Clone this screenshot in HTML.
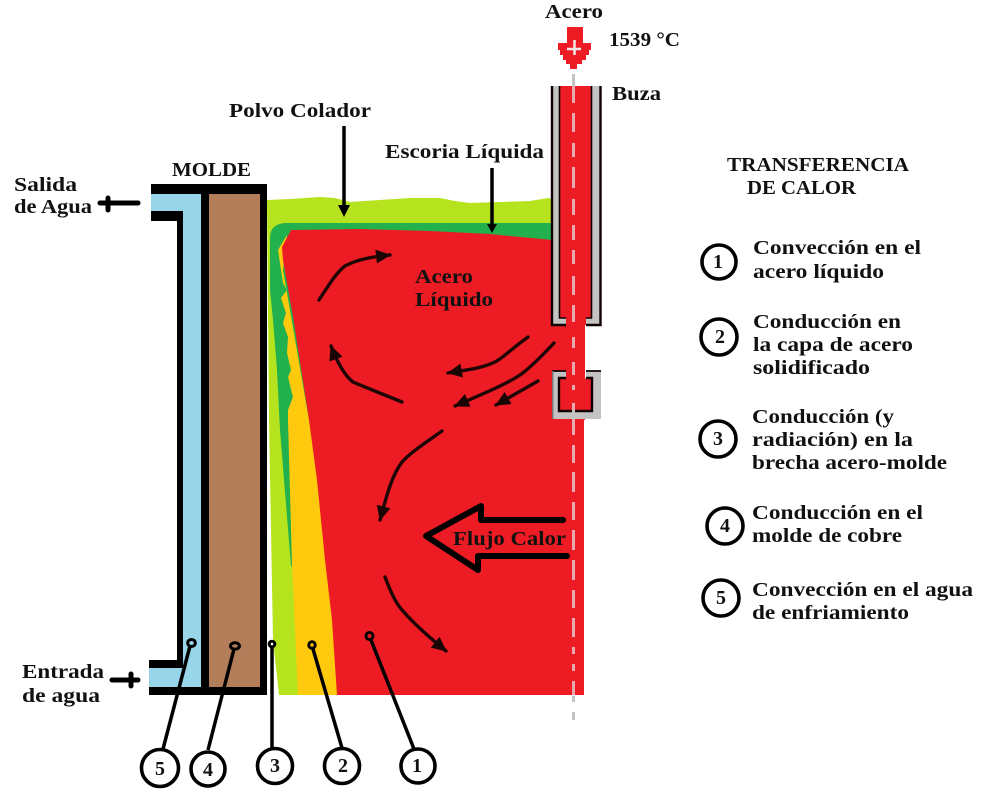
<!DOCTYPE html>
<html lang="es">
<head>
<meta charset="utf-8">
<title>Transferencia de calor</title>
<style>
html,body{margin:0;padding:0;background:#fff;width:986px;height:802px;overflow:hidden}
svg{display:block}
text{font-family:"Liberation Serif",serif;font-weight:bold;font-size:20px;fill:#111;}
.n{font-size:20px;text-anchor:middle}
</style>
</head>
<body>
<svg width="986" height="802" viewBox="0 0 986 802" xmlns="http://www.w3.org/2000/svg">
<defs>
<marker id="ah" markerUnits="userSpaceOnUse" markerWidth="16" markerHeight="14" refX="14" refY="7" orient="auto"><path d="M0,0 L15,7 L0,14 Z" fill="#1a0505"/></marker>
</defs>
<rect width="986" height="802" fill="#fff"/>

<!-- mold -->
<rect x="183" y="194" width="18" height="474" fill="#99d5e9"/>
<rect x="151" y="194" width="50" height="17" fill="#99d5e9"/>
<rect x="149" y="668" width="52" height="19" fill="#99d5e9"/>
<rect x="209" y="194" width="51" height="493" fill="#b47d5a"/>
<g fill="#000">
<rect x="151" y="184" width="116" height="10"/>
<rect x="151" y="211" width="32" height="10"/>
<rect x="177" y="211" width="6" height="457"/>
<rect x="149" y="660" width="34" height="8"/>
<rect x="149" y="687" width="118" height="8"/>
<rect x="201" y="184" width="8" height="511"/>
<rect x="260" y="184" width="7" height="511"/>
</g>

<!-- solidification layers -->
<path d="M267,200 L290,199 L320,197 L335,198 L350,202 L380,200 L410,198 L440,198 L455,201 L470,203 L500,202 L530,201 L548,198 L552,199 L552,240 L340,695 L279,695 L273,640 L269,420 Z" fill="#b5e31e"/>
<path d="M552,223 L285,223 Q270,224 270,238 L270,290 L273,320 L277,370 L280,430 L291,566 L292,566 L300,420 L552,240 Z" fill="#22b14c"/>
<path d="M287,235 L278,250 L283,283 L287,290 L281,298 L286,313 L283,323 L288,337 L287,353 L291,370 L288,377 L293,397 L288,410 L288,420 L292,565 L298,695 L337,695 L330,560 L309,420 L283,270 Z" fill="#ffc90e"/>
<path d="M291,230 L360,229 L430,231 L490,234 L552,240 L552,325 L559,325 L559,86 L592,86 L592,325 L585,325 L585,420 L584,420 L584,695 L337,695 L332,620 L325,560 L317,480 L309,420 L293,317 L283,260 L282,247 Z" fill="#ed1c24"/>

<!-- nozzle -->
<g>
<path d="M553,86 H559 V318 H566 V324 H553 Z" fill="#c3c3c3"/>
<path d="M592,86 H600 V324 H586 V318 H592 Z" fill="#c3c3c3"/>
<path d="M552,86 V325 H566 M600.500,86 V325 H586" fill="none" stroke="#100" stroke-width="2.400"/>
<path d="M559.500,86 V318 H566 M591.500,86 V318 H586" fill="none" stroke="#100" stroke-width="1.600"/>
<path d="M552,371 H566 V378 H559 V411 H592 V378 H586 V371 H601 V419 H552 Z" fill="#c3c3c3"/>
<path d="M552,371 H566 M601,371 H586" fill="none" stroke="#100" stroke-width="1.800"/>
<rect x="559.500" y="378.500" width="32" height="32" fill="#ed1c24"/>
<path d="M566,378 H559 V411 H592 V378 H586" fill="none" stroke="#100" stroke-width="2.400"/>
<rect x="552" y="371" width="1.500" height="48" fill="#777"/>
</g>

<!-- centre dashes -->
<g stroke-width="3" fill="none">
<path stroke="#c3c3c3" d="M573.500,74 V86 M573.500,696 V702 M573.500,712 V720"/>
<path stroke="#e8a9b0" d="M573.500,86 V103 M573.500,113 V132 M573.500,143 V157 M573.500,167 V188 M573.500,199 V215 M573.500,225 V240 M573.500,250 V264 M573.500,276 V295 M573.500,305 V322 M573.500,337 V348 M573.500,362 V375 M573.500,385 V390 M573.500,403 V411 M573.500,419 V435 M573.500,445 V463 M573.500,472 V492 M573.500,502 V520 M573.500,530 V550 M573.500,560 V580 M573.500,590 V608 M573.500,618 V637 M573.500,647 V654 M573.500,664 V671 M573.500,681 V695"/>
<path stroke="#c3c3c3" d="M573.500,411 V419"/>
</g>

<!-- top arrow -->
<path d="M567,27 H583 V43 H591 V50 H589 V55 H586 V60 H582 V64 H577 V69 H570 V64 H566 V60 H563 V55 H560 V50 H558 V43 H567 Z" fill="#ed1c24"/>
<path d="M574.500,40 V55 M567,49 H581" stroke="#f5e6e6" stroke-width="2.500"/>

<!-- flow arrows -->
<g fill="none" stroke="#200505" stroke-width="3.400" stroke-linecap="round" marker-end="url(#ah)">
<path d="M319,300 C330,283 337,272 345,266 C358,259 372,257 390,255"/>
<path d="M402,402 C380,393 362,386 353,382 C345,376 337,362 331,346"/>
<path d="M528,337 C510,350 503,358 495,362 C480,369 465,370 448,373"/>
<path d="M554,343 C540,358 530,368 520,375 C505,385 480,395 455,406"/>
<path d="M538,381 L496,405"/>
<path d="M442,431 C425,443 410,453 402,462 C393,474 388,490 380,520"/>
<path d="M385,577 C390,590 395,602 402,610 C415,625 430,638 446,651"/>
</g>

<!-- heat arrow -->
<path d="M563,520 H481 V506 L426,536 L478,570 V556 H567" fill="none" stroke="#000" stroke-width="6" stroke-linejoin="round" stroke-linecap="round"/>

<!-- leader arrows and crosses -->
<g fill="none" stroke="#000" stroke-width="3.500">
<path d="M344,126 V208"/>
<path d="M492,168 V226"/>
</g>
<path d="M338,205 H350 L344,217 Z M487,224 H497 L492,233 Z" fill="#000"/>
<g stroke="#000" stroke-linecap="round">
<path d="M100,203 H138" stroke-width="5"/>
<path d="M108,198 V210" stroke-width="5"/>
<path d="M112,680 H138" stroke-width="5"/>
<path d="M131,674 V686" stroke-width="5"/>
</g>

<!-- probes and callouts -->
<g fill="none" stroke="#000" stroke-width="3.500">
<line x1="190" y1="646" x2="163" y2="749"/>
<line x1="234" y1="649" x2="208" y2="750"/>
<line x1="272" y1="648" x2="272" y2="748"/>
<line x1="313" y1="649" x2="342" y2="748"/>
<line x1="371" y1="640" x2="414" y2="749"/>
</g>
<g fill="none" stroke="#000" stroke-width="3">
<ellipse cx="191.500" cy="643" rx="3.800" ry="3.500"/>
<ellipse cx="235" cy="646" rx="4.500" ry="3.200"/>
<circle cx="272" cy="644" r="2.800"/>
<circle cx="312" cy="645" r="3.200"/>
<circle cx="369.500" cy="636" r="3.500"/>
</g>
<g fill="#fff" stroke="#000" stroke-width="3.600">
<circle cx="160" cy="768" r="18.500"/>
<circle cx="208" cy="769" r="17"/>
<circle cx="275" cy="766" r="17.500"/>
<circle cx="342" cy="766" r="17.500"/>
<circle cx="418" cy="766" r="17"/>
<circle cx="719" cy="262" r="17"/>
<circle cx="719" cy="337" r="18"/>
<circle cx="718" cy="439" r="18"/>
<circle cx="725" cy="526" r="18"/>
<circle cx="721" cy="598" r="18"/>
</g>

<!-- numbers -->
<text class="n" x="160" y="775">5</text>
<text class="n" x="208" y="776">4</text>
<text class="n" x="275" y="772">3</text>
<text class="n" x="343" y="772">2</text>
<text class="n" x="417" y="772">1</text>
<text class="n" x="718" y="268">1</text>
<text class="n" x="720" y="343">2</text>
<text class="n" x="718" y="445">3</text>
<text class="n" x="725" y="532">4</text>
<text class="n" x="721" y="604">5</text>

<!-- labels -->
<g>
<text x="545" y="18" textLength="58" lengthAdjust="spacingAndGlyphs">Acero</text>
<text x="609" y="46" textLength="71" lengthAdjust="spacingAndGlyphs">1539 °C</text>
<text x="612" y="100" textLength="49" lengthAdjust="spacingAndGlyphs">Buza</text>
<text x="229" y="117" textLength="142" lengthAdjust="spacingAndGlyphs">Polvo Colador</text>
<text x="385" y="158" textLength="159" lengthAdjust="spacingAndGlyphs">Escoria Líquida</text>
<text x="172" y="176" textLength="79" lengthAdjust="spacingAndGlyphs">MOLDE</text>
<text x="14" y="191" textLength="63" lengthAdjust="spacingAndGlyphs">Salida</text>
<text x="14" y="213" textLength="78" lengthAdjust="spacingAndGlyphs">de Agua</text>
<text x="22" y="678" textLength="82" lengthAdjust="spacingAndGlyphs">Entrada</text>
<text x="22" y="702" textLength="78" lengthAdjust="spacingAndGlyphs">de agua</text>
<text x="415" y="283" textLength="58" lengthAdjust="spacingAndGlyphs">Acero</text>
<text x="415" y="306" textLength="78" lengthAdjust="spacingAndGlyphs">Líquido</text>
<text x="453" y="545" textLength="113" lengthAdjust="spacingAndGlyphs">Flujo Calor</text>
<text x="727" y="171" textLength="182" lengthAdjust="spacingAndGlyphs">TRANSFERENCIA</text>
<text x="747" y="194" textLength="109" lengthAdjust="spacingAndGlyphs">DE CALOR</text>
<text x="753" y="254" textLength="168" lengthAdjust="spacingAndGlyphs">Convección en el</text>
<text x="753" y="278" textLength="131" lengthAdjust="spacingAndGlyphs">acero líquido</text>
<text x="753" y="328" textLength="148" lengthAdjust="spacingAndGlyphs">Conducción en</text>
<text x="753" y="351" textLength="160" lengthAdjust="spacingAndGlyphs">la capa de acero</text>
<text x="753" y="374" textLength="117" lengthAdjust="spacingAndGlyphs">solidificado</text>
<text x="752" y="423" textLength="142" lengthAdjust="spacingAndGlyphs">Conducción (y</text>
<text x="752" y="446" textLength="161" lengthAdjust="spacingAndGlyphs">radiación) en la</text>
<text x="752" y="469" textLength="195" lengthAdjust="spacingAndGlyphs">brecha acero-molde</text>
<text x="752" y="519" textLength="171" lengthAdjust="spacingAndGlyphs">Conducción en el</text>
<text x="752" y="542" textLength="150" lengthAdjust="spacingAndGlyphs">molde de cobre</text>
<text x="752" y="596" textLength="221" lengthAdjust="spacingAndGlyphs">Convección en el agua</text>
<text x="752" y="619" textLength="157" lengthAdjust="spacingAndGlyphs">de enfriamiento</text>
</g>
</svg>
</body>
</html>
